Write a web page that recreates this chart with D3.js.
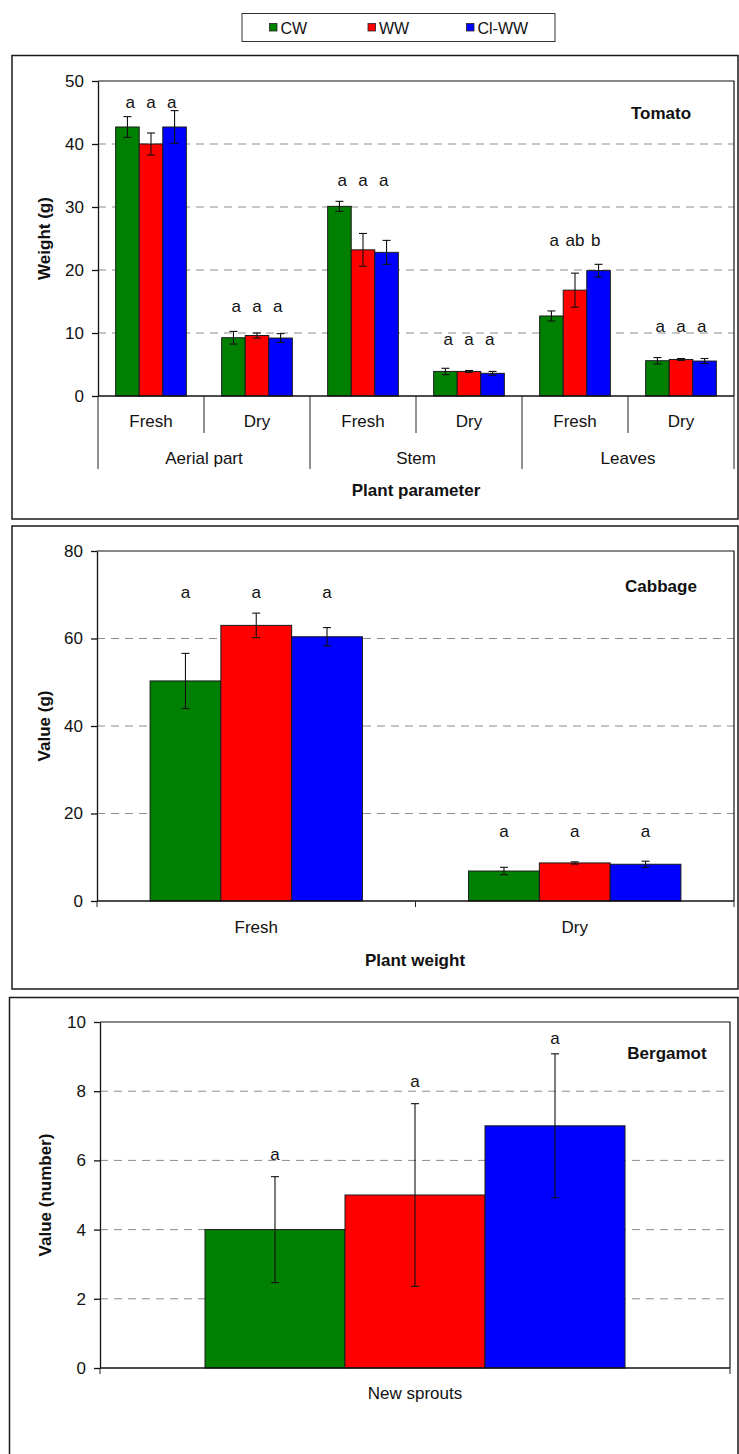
<!DOCTYPE html>
<html>
<head>
<meta charset="utf-8">
<script src="https://cdn.jsdelivr.net/npm/d3@7"></script>
<style>
    body { margin: 0; background: #fff; }
    svg text { font-family: "Liberation Sans", Arial, sans-serif; font-size: 17px; fill: #111; }
    .bold { font-weight: bold; }
    .grid { stroke: #8c8c8c; stroke-width: 1; stroke-dasharray: 8,6; }
</style>
</head>
<body>
<div id="chart"></div>
<script>
// series shared by the three panels
var series = ["CW", "WW", "Cl-WW"];
var seriesColors = ["#008000", "#ff0000", "#0000ff"];

// Tomato
var tomatoParts = ["Aerial part", "Stem", "Leaves"];
var tomatoStates = ["Fresh", "Dry", "Fresh", "Dry", "Fresh", "Dry"];
var tomatoCW = [42.7, 9.25, 30.1, 3.9, 12.7, 5.6];
var tomatoWW = [40.0, 9.6, 23.2, 3.9, 16.8, 5.8];
var tomatoClWW = [42.7, 9.2, 22.8, 3.6, 19.9, 5.55];
var tomatoErrCW = [1.65, 1.0, 0.8, 0.5, 0.8, 0.5];
var tomatoErrWW = [1.75, 0.4, 2.6, 0.15, 2.7, 0.15];
var tomatoErrClWW = [2.6, 0.7, 1.9, 0.3, 1.0, 0.4];
var tomatoLetters = [["a", "a", "a"], ["a", "a", "a"], ["a", "a", "a"], ["a", "a", "a"], ["a", "ab", "b"], ["a", "a", "a"]];
var tomatoLetterLevel = [46.5, 14.1, 34.0, 8.85, 24.5, 10.9];
var tomatoTicks = [0, 10, 20, 30, 40, 50];

// Cabbage
var cabbageCats = ["Fresh", "Dry"];
var cabbageCW = [50.3, 6.85];
var cabbageWW = [63.0, 8.7];
var cabbageClWW = [60.4, 8.4];
var cabbageErrCW = [6.3, 0.85];
var cabbageErrWW = [2.8, 0.25];
var cabbageErrClWW = [2.1, 0.7];
var cabbageLetters = [["a", "a", "a"], ["a", "a", "a"]];
var cabbageLetterLevel = [70.4, 15.7];
var cabbageTicks = [0, 20, 40, 60, 80];

// Bergamot
var bergamotCats = ["New sprouts"];
var bergamotCW = [4.0];
var bergamotWW = [5.0];
var bergamotClWW = [7.0];
var bergamotErrCW = [1.53];
var bergamotErrWW = [2.64];
var bergamotErrClWW = [2.08];
var bergamotLetters = [["a", "a", "a"]];
var bergamotLetterLevel = [[6.14, 8.25, 9.5]];
var bergamotTicks = [0, 2, 4, 6, 8, 10];

document.addEventListener("DOMContentLoaded", function(event) {

    var svg = d3.select("#chart").append("svg")
        .attr("width", 739)
        .attr("height", 1454);

    // Legend
    svg.append("rect")
        .attr("x", 242).attr("y", 13.5)
        .attr("width", 313).attr("height", 28)
        .attr("fill", "#fff").attr("stroke", "#333").attr("stroke-width", 1);

    series.forEach(function(s, i) {
        var lx = 269.5 + i * 98.5;
        svg.append("rect")
            .attr("x", lx).attr("y", 23.5)
            .attr("width", 7.5).attr("height", 7.5)
            .attr("fill", seriesColors[i]).attr("stroke", "#222").attr("stroke-width", 0.8);
        svg.append("text")
            .attr("x", lx + 11).attr("y", 33.5)
            .style("font-size", "16px")
            .text(s);
    });

    // panel frames
    [[12, 55.5, 726, 463.5], [12, 526, 726, 463], [9.5, 997.5, 728.5, 470]].forEach(function(f) {
        svg.append("rect")
            .attr("x", f[0]).attr("y", f[1])
            .attr("width", f[2]).attr("height", f[3])
            .attr("fill", "none").attr("stroke", "#1a1a1a").attr("stroke-width", 1.5);
    });

    function drawPanel(cfg) {
        var nGroups = cfg.values[0].length;
        var rows = [];
        for (var g = 0; g < nGroups; g++) {
            series.forEach(function(s, i) {
                var lvl = cfg.letterLevel[g];
                rows.push({
                    g: g, s: s, i: i,
                    v: cfg.values[i][g],
                    e: cfg.errors[i][g],
                    letter: cfg.letters[g][i],
                    level: Array.isArray(lvl) ? lvl[i] : lvl
                });
            });
        }

        var x = d3.scaleBand().domain(d3.range(nGroups))
            .range([cfg.left, cfg.right]).paddingInner(0).paddingOuter(0);
        var xs = d3.scaleBand().domain(series)
            .range([0, x.bandwidth()]).paddingInner(0).paddingOuter(0.75);
        var y = d3.scaleLinear().domain([0, d3.max(cfg.ticks)])
            .range([cfg.bottom, cfg.top]);

        function cx(d) { return x(d.g) + xs(d.s) + xs.bandwidth() / 2; }

        // gridlines
        svg.append("g").selectAll("line")
            .data(cfg.ticks.slice(1, -1))
            .enter().append("line")
            .attr("class", "grid")
            .attr("x1", cfg.left).attr("x2", cfg.right)
            .attr("y1", function(d) { return y(d); })
            .attr("y2", function(d) { return y(d); });

        // bars
        svg.append("g").selectAll("rect")
            .data(rows)
            .enter().append("rect")
            .attr("x", function(d) { return x(d.g) + xs(d.s); })
            .attr("y", function(d) { return y(d.v); })
            .attr("width", xs.bandwidth())
            .attr("height", function(d) { return y(0) - y(d.v); })
            .attr("fill", function(d) { return seriesColors[d.i]; })
            .attr("stroke", "#1a1a1a").attr("stroke-width", 1);

        // error bars
        var err = svg.append("g").attr("stroke", "#111").attr("stroke-width", 1.1);
        rows.forEach(function(d) {
            var c = cx(d);
            err.append("line").attr("x1", c).attr("x2", c)
                .attr("y1", y(d.v + d.e)).attr("y2", y(d.v - d.e));
            err.append("line").attr("x1", c - 4).attr("x2", c + 4)
                .attr("y1", y(d.v + d.e)).attr("y2", y(d.v + d.e));
            err.append("line").attr("x1", c - 4).attr("x2", c + 4)
                .attr("y1", y(d.v - d.e)).attr("y2", y(d.v - d.e));
        });

        // significance letters
        svg.append("g").selectAll("text")
            .data(rows)
            .enter().append("text")
            .attr("x", function(d) {
                var mid = x(d.g) + x.bandwidth() / 2;
                return mid + (cx(d) - mid) * cfg.letterSpread;
            })
            .attr("y", function(d) { return y(d.level); })
            .attr("dy", "0.27em")
            .attr("text-anchor", "middle")
            .text(function(d) { return d.letter; });

        // Y axis
        var yAxis = svg.append("g")
            .attr("transform", "translate(" + cfg.left + ",0)")
            .call(d3.axisLeft(y).tickValues(cfg.ticks).tickSize(6).tickSizeOuter(0).tickPadding(8));
        yAxis.selectAll("path, line").attr("stroke", "#111").attr("stroke-width", 1.3);
        yAxis.selectAll("text")
            .style("font-size", "17px")
            .style("font-family", "'Liberation Sans', Arial, sans-serif")
            .attr("fill", "#111");

        // frame top/right and base line
        svg.append("path")
            .attr("d", "M" + cfg.left + "," + cfg.top + "H" + cfg.right + "V" + y(0))
            .attr("fill", "none").attr("stroke", "#111").attr("stroke-width", 1.2);
        svg.append("line")
            .attr("x1", cfg.left).attr("x2", cfg.right)
            .attr("y1", y(0)).attr("y2", y(0))
            .attr("stroke", "#111").attr("stroke-width", 1.5);

        // title and y label
        svg.append("text")
            .attr("class", "bold")
            .attr("x", cfg.titleX).attr("y", cfg.titleY)
            .attr("dy", "0.35em")
            .attr("text-anchor", "middle")
            .text(cfg.title);

        svg.append("text")
            .attr("class", "bold")
            .attr("transform", "rotate(-90)")
            .attr("x", -(cfg.top + cfg.bottom) / 2)
            .attr("y", cfg.yLabelX)
            .attr("dy", "0.35em")
            .attr("text-anchor", "middle")
            .text(cfg.yLabel);

        return x;
    }

    // Tomato
    var xT = drawPanel({
        left: 98, right: 734, top: 81, bottom: 396,
        ticks: tomatoTicks,
        values: [tomatoCW, tomatoWW, tomatoClWW],
        errors: [tomatoErrCW, tomatoErrWW, tomatoErrClWW],
        letters: tomatoLetters, letterLevel: tomatoLetterLevel, letterSpread: 0.88,
        title: "Tomato", titleX: 661, titleY: 113,
        yLabel: "Weight (g)", yLabelX: 44
    });

    var bw = xT.bandwidth();
    tomatoStates.forEach(function(st, g) {
        svg.append("text")
            .attr("x", xT(g) + bw / 2).attr("y", 421)
            .attr("dy", "0.35em").attr("text-anchor", "middle")
            .text(st);
    });
    d3.range(tomatoStates.length + 1).forEach(function(g) {
        var xx = g < tomatoStates.length ? xT(g) : xT(g - 1) + bw;
        svg.append("line")
            .attr("x1", xx).attr("x2", xx)
            .attr("y1", 396).attr("y2", g % 2 === 0 ? 469 : 433)
            .attr("stroke", "#222").attr("stroke-width", 1);
    });
    tomatoParts.forEach(function(p, k) {
        svg.append("text")
            .attr("x", xT(2 * k) + bw).attr("y", 458)
            .attr("dy", "0.35em").attr("text-anchor", "middle")
            .text(p);
    });
    svg.append("text")
        .attr("class", "bold")
        .attr("x", 416).attr("y", 490)
        .attr("dy", "0.35em").attr("text-anchor", "middle")
        .text("Plant parameter");

    // Cabbage
    var xC = drawPanel({
        left: 97, right: 734, top: 551, bottom: 901,
        ticks: cabbageTicks,
        values: [cabbageCW, cabbageWW, cabbageClWW],
        errors: [cabbageErrCW, cabbageErrWW, cabbageErrClWW],
        letters: cabbageLetters, letterLevel: cabbageLetterLevel, letterSpread: 1,
        title: "Cabbage", titleX: 661, titleY: 586,
        yLabel: "Value (g)", yLabelX: 44
    });
    svg.append("g")
        .attr("transform", "translate(0,901)")
        .call(d3.axisBottom(xC).tickSize(0).tickFormat(function(d) { return cabbageCats[d]; }).tickPadding(20))
        .call(function(g) {
            g.select(".domain").remove();
            g.selectAll("text").style("font-size", "17px")
                .style("font-family", "'Liberation Sans', Arial, sans-serif").attr("fill", "#111");
        });
    d3.range(cabbageCats.length + 1).forEach(function(g) {
        var xx = xC.range()[0] + g * xC.bandwidth();
        svg.append("line").attr("x1", xx).attr("x2", xx)
            .attr("y1", 901).attr("y2", 907)
            .attr("stroke", "#222").attr("stroke-width", 1);
    });
    svg.append("text")
        .attr("class", "bold")
        .attr("x", 415).attr("y", 960)
        .attr("dy", "0.35em").attr("text-anchor", "middle")
        .text("Plant weight");

    // Bergamot
    var xB = drawPanel({
        left: 100, right: 730, top: 1022, bottom: 1368,
        ticks: bergamotTicks,
        values: [bergamotCW, bergamotWW, bergamotClWW],
        errors: [bergamotErrCW, bergamotErrWW, bergamotErrClWW],
        letters: bergamotLetters, letterLevel: bergamotLetterLevel, letterSpread: 1,
        title: "Bergamot", titleX: 667, titleY: 1053,
        yLabel: "Value (number)", yLabelX: 45
    });
    svg.append("g")
        .attr("transform", "translate(0,1368)")
        .call(d3.axisBottom(xB).tickSize(0).tickFormat(function(d) { return bergamotCats[d]; }).tickPadding(19))
        .call(function(g) {
            g.select(".domain").remove();
            g.selectAll("text").style("font-size", "17px")
                .style("font-family", "'Liberation Sans', Arial, sans-serif").attr("fill", "#111");
        });
    [xB.range()[0], xB.range()[1]].forEach(function(xx) {
        svg.append("line").attr("x1", xx).attr("x2", xx)
            .attr("y1", 1368).attr("y2", 1374)
            .attr("stroke", "#222").attr("stroke-width", 1);
    });

})
</script>
</body>
</html>
